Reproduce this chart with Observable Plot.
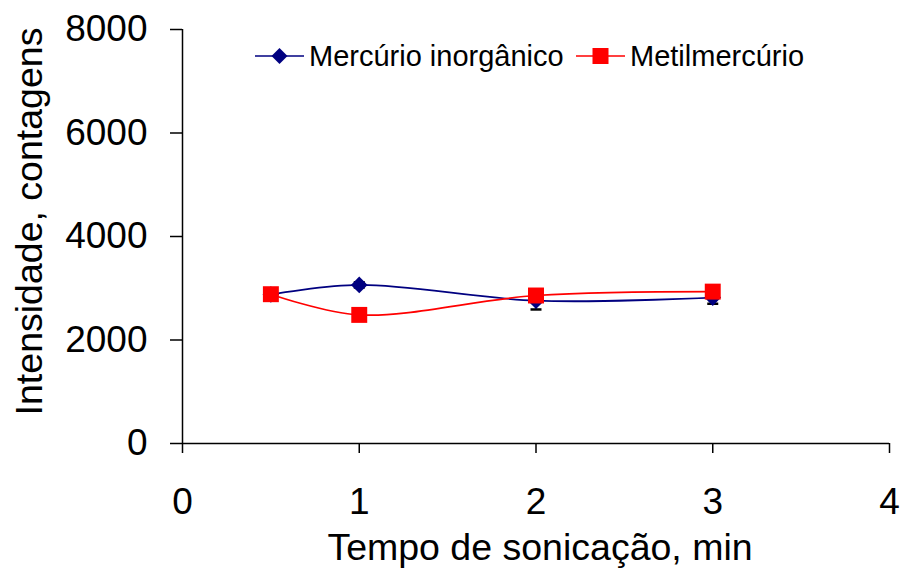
<!DOCTYPE html>
<html>
<head>
<meta charset="utf-8">
<script src="https://cdn.jsdelivr.net/npm/d3@7"></script>
<script src="https://cdn.jsdelivr.net/npm/@observablehq/plot@0.6"></script>
<style>
  body { margin: 0; background: #fff; font-family: "Liberation Sans", Arial, sans-serif; }
  #chart { position: relative; width: 900px; height: 571px; }
  #overlay { position: absolute; left: 0; top: 0; pointer-events: none; }
  #overlay text { font-family: "Liberation Sans", Arial, sans-serif; fill: #000; }
</style>
</head>
<body>
<div id="chart"></div>
<script>
// Sonication time (min) and signal intensity (counts)
const tempo = [0.5, 1, 2, 3];
const inorganico = [2880, 3065, 2760, 2820];
const inorganicoErro = [60, 50, 170, 120];
const metilmercurio = [2885, 2485, 2860, 2935];
const xTicks = [0, 1, 2, 3, 4];
const yTicks = [0, 2000, 4000, 6000, 8000];
const nomes = ["Mercúrio inorgânico", "Metilmercúrio"];
const cores = ["#000080", "#ff0000"];
const tituloX = "Tempo de sonicação, min";
const tituloY = "Intensidade, contagens";

const rows = tempo.map((t, i) => ({
  t,
  inorg: inorganico[i],
  err: inorganicoErro[i],
  metil: metilmercurio[i]
}));

// short horizontal stroke used as error-bar cap
const cap = {
  draw(context) {
    context.moveTo(-5.5, 0);
    context.lineTo(5.5, 0);
  }
};

const font = "Liberation Sans, Arial, sans-serif";

const chart = Plot.plot({
  width: 900,
  height: 571,
  marginLeft: 182,
  marginRight: 11,
  marginTop: 29,
  marginBottom: 128,
  style: { fontFamily: font, color: "#000", background: "#fff", overflow: "visible" },
  x: { domain: [0, 4], label: null },
  y: { domain: [0, 8000], label: null },
  marks: [
    Plot.axisY({ ticks: yTicks, tickSize: 12, tickPadding: 23, fontSize: 37, tickFormat: d => String(d), strokeWidth: 1.5, label: null }),
    Plot.axisX({ ticks: xTicks, tickSize: 10, tickPadding: 34, fontSize: 37, tickFormat: d => String(d), strokeWidth: 1.5, label: null }),
    Plot.ruleX([0], { stroke: "#000", strokeWidth: 1.5 }),
    Plot.ruleY([0], { stroke: "#000", strokeWidth: 1.5 }),
    // error bars
    Plot.ruleX(rows, { x: "t", y1: d => d.inorg - d.err, y2: d => d.inorg + d.err, stroke: "#000", strokeWidth: 1.5 }),
    Plot.dot(rows, { x: "t", y: d => d.inorg - d.err, symbol: cap, r: 5, stroke: "#000", strokeWidth: 2.5 }),
    Plot.dot(rows, { x: "t", y: d => d.inorg + d.err, symbol: cap, r: 5, stroke: "#000", strokeWidth: 2.5 }),
    // inorganic mercury
    Plot.line(rows, { x: "t", y: "inorg", stroke: cores[0], strokeWidth: 1.7, curve: "catmull-rom" }),
    Plot.dot(rows, { x: "t", y: "inorg", symbol: "diamond2", r: 7.5, fill: cores[0], stroke: "none" }),
    // methylmercury
    Plot.line(rows, { x: "t", y: "metil", stroke: cores[1], strokeWidth: 1.7, curve: "catmull-rom" }),
    Plot.dot(rows, { x: "t", y: "metil", symbol: "square", r: 9, fill: cores[1], stroke: "none" })
  ]
});

const wrap = document.getElementById("chart");
wrap.appendChild(chart);

// axis titles and legend on top of the plot
const ns = "http://www.w3.org/2000/svg";
const svg = document.createElementNS(ns, "svg");
svg.setAttribute("id", "overlay");
svg.setAttribute("width", 900);
svg.setAttribute("height", 571);

function addText(str, attrs) {
  const t = document.createElementNS(ns, "text");
  for (const k in attrs) t.setAttribute(k, attrs[k]);
  t.textContent = str;
  svg.appendChild(t);
  return t;
}

addText(tituloX, { x: 540, y: 560, "text-anchor": "middle", "font-size": 37.5 });
addText(tituloY, { transform: "translate(42,221.5) rotate(-90)", "text-anchor": "middle", "font-size": 37.5 });

const items = [
  { x: 255, symbol: "diamond" },
  { x: 576, symbol: "square" }
];
const yLeg = 56;
items.forEach((it, i) => {
  const line = document.createElementNS(ns, "line");
  line.setAttribute("x1", it.x); line.setAttribute("x2", it.x + 49);
  line.setAttribute("y1", yLeg); line.setAttribute("y2", yLeg);
  line.setAttribute("stroke", cores[i]); line.setAttribute("stroke-width", 1.7);
  svg.appendChild(line);
  const cx = it.x + 24.5;
  let m;
  if (it.symbol === "diamond") {
    m = document.createElementNS(ns, "path");
    m.setAttribute("d", `M${cx},${yLeg - 8}L${cx + 8},${yLeg}L${cx},${yLeg + 8}L${cx - 8},${yLeg}Z`);
  } else {
    m = document.createElementNS(ns, "rect");
    m.setAttribute("x", cx - 8); m.setAttribute("y", yLeg - 8);
    m.setAttribute("width", 16); m.setAttribute("height", 16);
  }
  m.setAttribute("fill", cores[i]);
  svg.appendChild(m);
  addText(nomes[i], { x: it.x + 54, y: yLeg, dy: "0.36em", "font-size": 29 });
});
wrap.appendChild(svg);
</script>
</body>
</html>
